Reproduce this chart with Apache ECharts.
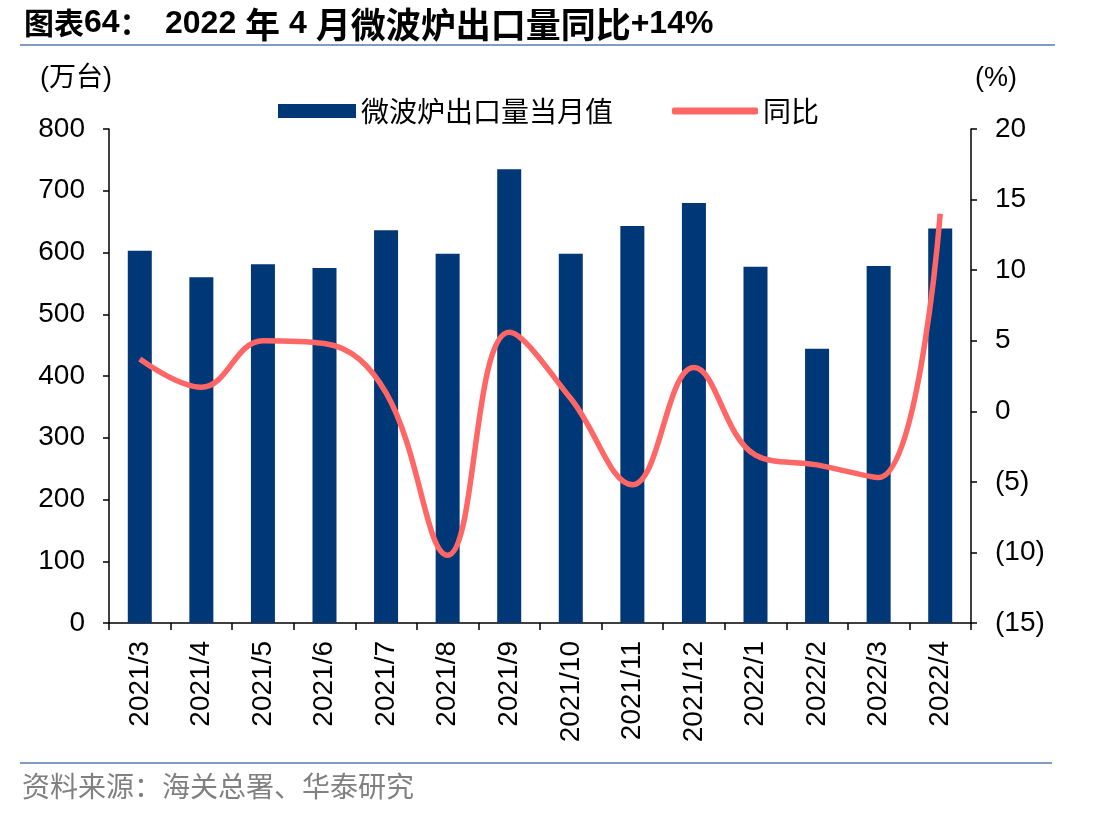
<!DOCTYPE html>
<html>
<head>
<meta charset="utf-8">
<script src="https://cdn.jsdelivr.net/npm/echarts@6/dist/echarts.min.js"></script>
<style>
  html, body { margin: 0; padding: 0; background: #fff; }
  #main { width: 1112px; height: 818px; }
</style>
</head>
<body>
<div id="main"></div>
<script>
// 月份
var months = ['2021/3', '2021/4', '2021/5', '2021/6', '2021/7', '2021/8', '2021/9',
  '2021/10', '2021/11', '2021/12', '2022/1', '2022/2', '2022/3', '2022/4'];
// 微波炉出口量当月值（万台）
var exportVol = [603, 560, 581, 575, 636, 598, 735, 598, 643, 680, 577, 444, 578, 639];
// 同比（%）
var yoy = [3.7, 1.7, 5.0, 4.8, 1.3, -10.2, 5.6, 0.9, -5.2, 3.1, -3.1, -3.8, -4.7, 14.0];

var leftTicks = [0, 800, 100];
var rightTicks = [-15, 20, 5];

var myChart = echarts.init(document.getElementById('main'));
var latin = '"Liberation Sans", Arial, sans-serif';
var cjk = '"Noto Sans CJK SC", sans-serif';

var option = {
  backgroundColor: '#fff',
  animation: false,
  textStyle: { fontFamily: latin },
  graphic: [
    {
      type: 'text', left: 24, top: 7,
      style: {
        text: '{c|图表}{n|64}{c|：}',
        rich: {
          n: { font: 'bold 32px "Liberation Sans", sans-serif', fill: '#000', height: 40 },
          c: { font: 'bold 30px "Noto Sans CJK SC", sans-serif', fill: '#000', height: 40 }
        }
      }
    },
    {
      type: 'text', left: 165, top: 7,
      style: {
        text: '{n|2022 }{c|年}{n| 4 }{c|月微波炉出口量同比}{n|+14%}',
        rich: {
          n: { font: 'bold 32px "Liberation Sans", sans-serif', fill: '#000', height: 40 },
          c: { font: 'bold 35px "Noto Sans CJK SC", sans-serif', fill: '#000', height: 40 }
        }
      }
    },
    {
      type: 'line', shape: { x1: 20, y1: 45, x2: 1055, y2: 45 },
      style: { stroke: '#7f9cc4', lineWidth: 2 }
    },
    {
      type: 'line', shape: { x1: 20, y1: 763, x2: 1052, y2: 763 },
      style: { stroke: '#7f9cc4', lineWidth: 2 }
    },
    {
      type: 'text', left: 22, top: 772,
      style: { text: '资料来源：海关总署、华泰研究', font: '28px "Noto Sans CJK SC", sans-serif', fill: '#808080' }
    },
    {
      type: 'text', left: 40, top: 65,
      style: { text: '(万台)', font: '27px "Liberation Sans", "Noto Sans CJK SC", sans-serif', fill: '#000' }
    },
    {
      type: 'text', left: 975, top: 65,
      style: { text: '(%)', font: '27px "Liberation Sans", sans-serif', fill: '#000' }
    }
  ],
  legend: [
    {
      top: 92, left: 273,
      itemWidth: 78, itemHeight: 14,
      icon: 'rect',
      textStyle: { fontSize: 28, color: '#000', fontFamily: cjk },
      data: ['微波炉出口量当月值']
    },
    {
      top: 92, left: 667,
      itemWidth: 86, itemHeight: 7,
      icon: 'roundRect',
      textStyle: { fontSize: 28, color: '#000', fontFamily: cjk },
      data: ['同比']
    }
  ],
  grid: { left: 109, right: 141, top: 129, bottom: 195 },
  xAxis: {
    type: 'category',
    data: months,
    axisLine: { lineStyle: { color: '#000', width: 1.5 } },
    axisTick: { show: true, length: 7, lineStyle: { color: '#000', width: 1.5 } },
    axisLabel: { rotate: 90, color: '#000', fontSize: 28, margin: 18 }
  },
  yAxis: [
    {
      type: 'value', min: leftTicks[0], max: leftTicks[1], interval: leftTicks[2],
      splitLine: { show: false },
      axisLine: { show: true, lineStyle: { color: '#000', width: 1.5 } },
      axisTick: { show: true, length: 6, lineStyle: { color: '#000', width: 1.5 } },
      axisLabel: { color: '#000', fontSize: 28, margin: 24 }
    },
    {
      type: 'value', min: rightTicks[0], max: rightTicks[1], interval: rightTicks[2],
      splitLine: { show: false },
      axisLine: { show: true, lineStyle: { color: '#000', width: 1.5 } },
      axisTick: { show: true, length: 6, lineStyle: { color: '#000', width: 1.5 } },
      axisLabel: {
        color: '#000', fontSize: 28, margin: 24,
        formatter: function (v) { return v < 0 ? '(' + (-v) + ')' : String(v); }
      }
    }
  ],
  series: [
    {
      name: '微波炉出口量当月值',
      type: 'bar',
      data: exportVol,
      barWidth: 24,
      itemStyle: { color: '#003776' }
    },
    {
      name: '同比',
      type: 'line',
      yAxisIndex: 1,
      data: yoy,
      smooth: 0.4,
      symbol: 'none',
      lineStyle: { color: '#ff6666', width: 5.5 },
      itemStyle: { color: '#ff6666' }
    }
  ]
};
myChart.setOption(option);
</script>
</body>
</html>
